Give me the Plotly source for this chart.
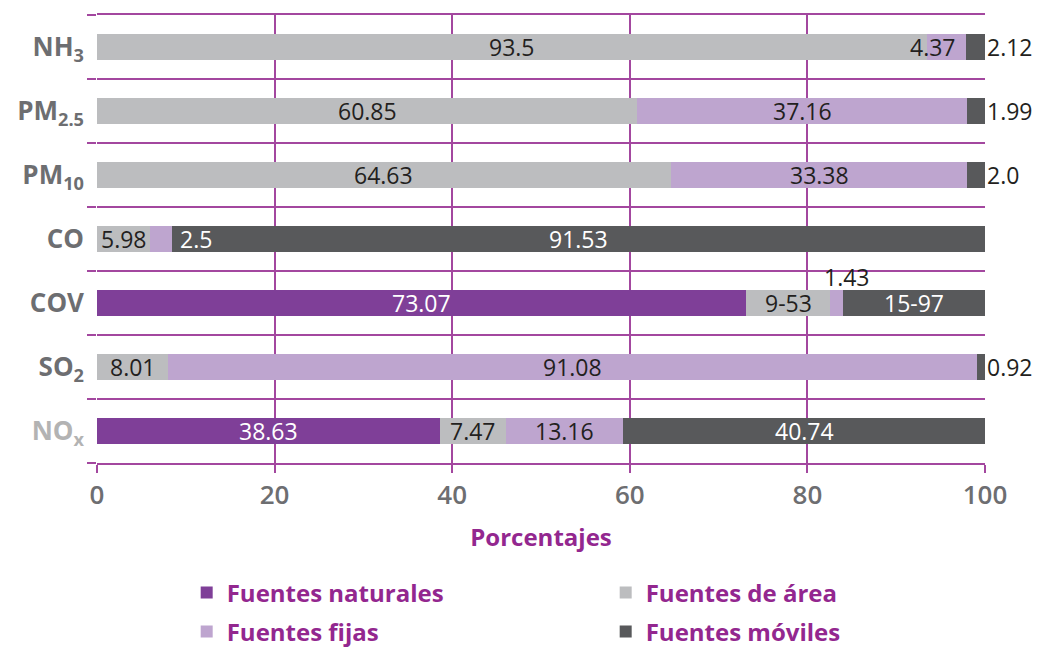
import plotly.graph_objects as go

# Pollutants, listed top to bottom
categories = ["NH<sub>3</sub>", "PM<sub>2.5</sub>", "PM<sub>10</sub>", "CO", "COV",
              "SO<sub>2</sub>", "NO<sub>x</sub>"]

# Share of emissions (%) by source type
naturales = [0, 0, 0, 0, 73.07, 0, 38.63]
area = [93.5, 60.85, 64.63, 5.98, 9.53, 8.01, 7.47]
fijas = [4.37, 37.16, 33.38, 2.5, 1.43, 91.08, 13.16]
moviles = [2.12, 1.99, 2.0, 91.53, 15.97, 0.92, 40.74]

# Value labels as printed on each segment ("" = no label)
lbl_naturales = ["", "", "", "", "73.07", "", "38.63"]
lbl_area = ["93.5", "60.85", "64.63", "5.98", "9-53", "8.01", "7.47"]
lbl_fijas = ["4.37", "37.16", "33.38", "2.5", "1.43", "91.08", "13.16"]
lbl_moviles = ["2.12", "1.99", "2.0", "91.53", "15-97", "0.92", "40.74"]

series_names = ["Fuentes naturales", "Fuentes de área", "Fuentes fijas", "Fuentes móviles"]

C_NAT = "#7f3f98"
C_AREA = "#bcbdbf"
C_FIJ = "#bea5cf"
C_MOV = "#58595b"
GRID = "#a3479f"
TICK_GRAY = "#6d6e71"
DARK_TXT = "#231f20"
LEGEND_TXT = "#93278f"
FONT = "Open Sans"

n = len(categories)
ypos = [n - 1 - i for i in range(n)]  # first category at the top

series = [
    (series_names[0], naturales, lbl_naturales, C_NAT, "white", "legend"),
    (series_names[1], area, lbl_area, C_AREA, DARK_TXT, "legend"),
    (series_names[2], fijas, lbl_fijas, C_FIJ, DARK_TXT, "legend2"),
    (series_names[3], moviles, lbl_moviles, C_MOV, "white", "legend2"),
]

# Label placement exceptions: (category index, series index) -> mode
placement = {
    (0, 2): "end_left",
    (3, 2): "after",
    (4, 2): "above",
    (0, 3): "outside",
    (1, 3): "outside",
    (2, 3): "outside",
    (5, 3): "outside",
}

fig = go.Figure()
for name, vals, _, col, _, lg in series:
    fig.add_trace(go.Bar(
        y=ypos, x=vals, name=name, orientation="h",
        marker=dict(color=col, line=dict(width=0)),
        width=0.42, legend=lg, hoverinfo="x+name",
    ))

annotations = []
for i in range(n):
    start = 0.0
    for s, (name, vals, labels, col, tcol, _) in enumerate(series):
        v = vals[i]
        txt = labels[i]
        end = start + v
        if txt:
            mode = placement.get((i, s), "center")
            a = dict(y=ypos[i], text=txt, showarrow=False,
                     font=dict(family=FONT, size=23, color=tcol))
            if mode == "center":
                a.update(x=(start + end) / 2, xanchor="center")
            elif mode == "end_left":
                a.update(x=end, xanchor="right", xshift=-8)
                a["font"]["color"] = DARK_TXT
            elif mode == "after":
                a.update(x=end, xanchor="left", xshift=6)
                a["font"]["color"] = "white"
            elif mode == "above":
                a.update(x=(start + end) / 2, xanchor="center", xshift=10, yshift=26)
                a["font"]["color"] = DARK_TXT
            elif mode == "outside":
                a.update(x=100, xanchor="left", xshift=0)
                a["font"]["color"] = DARK_TXT
            annotations.append(a)
        start = end

ticktext = [
    c if c != "NO<sub>x</sub>" else "<span style='color:#b3b3b3'>NO<sub>x</sub></span>"
    for c in categories
]

legend_common = dict(
    orientation="h", x=0.101, xanchor="left", yref="container", yanchor="middle",
    entrywidth=374, entrywidthmode="pixels", traceorder="normal",
    font=dict(family=FONT, size=24, color=LEGEND_TXT, weight="bold"),
    bgcolor="rgba(0,0,0,0)",
)

fig.update_layout(
    width=1040, height=651,
    margin=dict(l=97, r=55, t=15, b=188, autoexpand=False),
    barmode="stack",
    plot_bgcolor="white", paper_bgcolor="white",
    font=dict(family=FONT),
    annotations=annotations,
    xaxis=dict(
        range=[0, 100], tickvals=[0, 20, 40, 60, 80, 100],
        showgrid=True, gridcolor=GRID, gridwidth=1.5, zeroline=False,
        ticks="outside", ticklen=8, tickcolor=GRID, tickwidth=1.5,
        tickfont=dict(family=FONT, size=26, color=TICK_GRAY, weight=600),
        title=dict(text="<b>Porcentajes</b>", font=dict(family=FONT, size=24, color=LEGEND_TXT),
                   standoff=18),
        showline=True, linecolor=GRID, linewidth=1.5, mirror=True,
        layer="below traces",
    ),
    yaxis=dict(
        range=[-0.5, n - 0.5], tickvals=ypos, ticktext=ticktext,
        showgrid=False, zeroline=False, ticks="", showline=False,
        tickfont=dict(family=FONT, size=26, color=TICK_GRAY, weight="bold"),
        ticklabelstandoff=12,
        minor=dict(tickvals=[k - 0.5 for k in range(n + 1)], showgrid=True,
                   gridcolor=GRID, gridwidth=1.5, ticks="outside", ticklen=9,
                   tickcolor=GRID, tickwidth=1.5),
        layer="below traces",
    ),
    legend=dict(legend_common, y=1 - 593 / 651),
    legend2=dict(legend_common, y=1 - 632 / 651),
)

fig.write_html("out.html")
